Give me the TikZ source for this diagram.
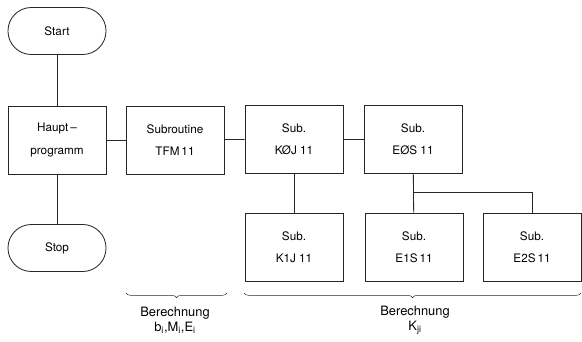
\documentclass[tikz,border=0pt]{standalone}
\usepackage{fontspec}
\setmainfont{TeX Gyre Heros}
\usetikzlibrary{decorations.pathreplacing}

\begin{document}
\begin{tikzpicture}[x=0.03cm, y=-0.03cm, line width=0.7pt, draw=black!85,
    box/.style={draw, minimum width=2.94cm, minimum height=2.04cm, align=center, font=\normalsize},
    term/.style={draw, rounded corners=0.7cm, minimum width=2.94cm, minimum height=1.41cm, font=\normalsize},
    brc/.style={decorate, decoration={brace, mirror, amplitude=4pt}, line width=0.4pt},
    note/.style={align=center, font=\fontsize{11}{13}\selectfont}]
    \useasboundingbox (0,0) rectangle (582,342);

    % define terminals
    \node[term] (start) at (57, 31) {Start};
    \node[term] (stop) at (57, 248) {Stop};

    % define boxes
    \node[box] (haupt) at (57, 140) {Haupt\,--\\[7pt]programm};
    \node[box] (tfm) at (175, 140) {Subroutine\\[7pt]TFM\,11};
    \node[box] (koj) at (294, 139) {Sub.\\[7pt]KØJ 11};
    \node[box] (eos) at (413, 139) {Sub.\\[7pt]EØS 11};
    \node[box] (k1j) at (294, 247) {Sub.\\[7pt]K1J 11};
    \node[box] (e1s) at (414, 247) {Sub.\\[7pt]E1S\,11};
    \node[box] (e2s) at (532, 247) {Sub.\\[7pt]E2S\,11};

    % connections
    \draw (start) -- (haupt);
    \draw (haupt) -- (stop);
    \draw (haupt) -- (tfm);
    \draw (tfm) -- (koj);
    \draw (koj) -- (eos);
    \draw (koj) -- (k1j);
    \draw (eos) -- (e1s);
    \coordinate (fork) at (413, 192);
    \draw (fork) -| (e2s);

    % braces
    \draw[brc] (126, 293) -- (227, 293);
    \draw[brc] (244, 293) -- (581, 293);

    % brace labels
    \node[note] (calc1) at (175, 320) {Berechnung\\b\textsubscript{i},M\textsubscript{i},E\textsubscript{i}};
    \node[note] (calc2) at (415, 320) {Berechnung\\K\textsubscript{ji}};
\end{tikzpicture}
\end{document}
